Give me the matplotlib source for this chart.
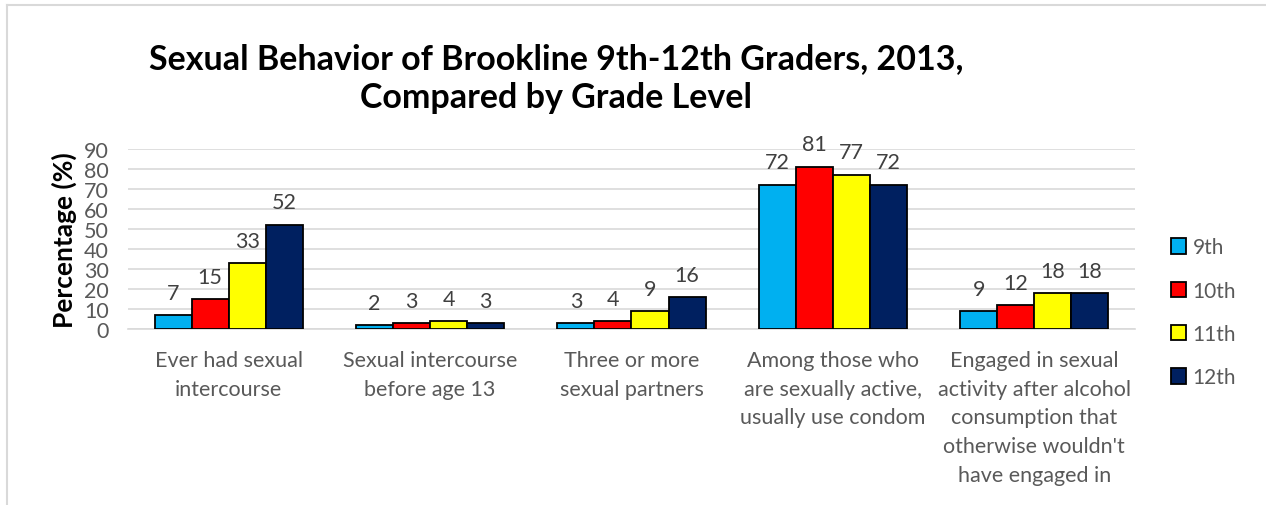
import numpy as np
import matplotlib
matplotlib.use("Agg")
from matplotlib import pyplot as plt
from matplotlib.lines import Line2D

categories = [
    "Ever had sexual\nintercourse",
    "Sexual intercourse\nbefore age 13",
    "Three or more\nsexual partners",
    "Among those who\nare sexually active,\nusually use condom",
    "Engaged in sexual\nactivity after alcohol\nconsumption that\notherwise wouldn't\nhave engaged in",
]
grades = ["9th", "10th", "11th", "12th"]
grade_9 = [7, 2, 3, 72, 9]
grade_10 = [15, 3, 4, 81, 12]
grade_11 = [33, 4, 9, 77, 18]
grade_12 = [52, 3, 16, 72, 18]
colors = ["#00B0F0", "#FF0000", "#FFFF00", "#002060"]

plt.rcParams["font.family"] = ["Lato", "DejaVu Sans"]

fig = plt.figure(figsize=(12.66, 5.06), dpi=100)
ax = fig.add_axes([0.1011, 0.3478, 0.7954, 0.3558])

x = np.arange(len(categories))
width = 0.184
series = [grade_9, grade_10, grade_11, grade_12]
for i, (vals, name, col) in enumerate(zip(series, grades, colors)):
    pos = x + (i - 1.5) * width
    bars = ax.bar(pos, vals, width, color=col, edgecolor="black",
                  linewidth=1.3, label=name, zorder=3)
    for b, v in zip(bars, vals):
        ax.annotate(str(v), (b.get_x() + b.get_width() / 2, v),
                    xytext=(0, 9), textcoords="offset points",
                    ha="center", va="bottom", fontsize=15.5, color="#404040")

ax.set_ylim(0, 90)
ax.set_xlim(-0.5, len(categories) - 0.5)
ax.set_yticks(range(0, 91, 10))
ax.yaxis.grid(True, color="#D9D9D9", linewidth=1.2, zorder=0)
ax.set_axisbelow(True)
for s in ["top", "right", "left"]:
    ax.spines[s].set_visible(False)
ax.spines["bottom"].set_color("#D9D9D9")
ax.spines["bottom"].set_linewidth(1.2)
ax.tick_params(axis="both", length=0, labelsize=15.5, labelcolor="#595959")
ax.tick_params(axis="y", pad=14)
ax.tick_params(axis="x", pad=15)
ax.set_xticks(x)
ax.set_xticklabels(categories, linespacing=1.55)
ax.set_ylabel("Percentage (%)", fontsize=19, fontweight="bold", labelpad=5)

fig.text(0.439, 0.845, "Sexual Behavior of Brookline 9th-12th Graders, 2013,\nCompared by Grade Level",
         ha="center", va="center", fontsize=24.5, fontweight="bold", linespacing=1.25)

fig.legend(loc="center left", bbox_to_anchor=(0.91, 0.381), frameon=False,
           fontsize=15, labelcolor="#595959", handlelength=0.75, handleheight=0.75,
           handletextpad=0.3, labelspacing=1.12)

# chart area frame
fig.add_artist(Line2D([7 / 1266, 1], [1 - 6 / 506, 1 - 6 / 506],
                      transform=fig.transFigure, color="#D9D9D9", linewidth=1.5))
fig.add_artist(Line2D([7 / 1266, 7 / 1266], [0, 1 - 6 / 506],
                      transform=fig.transFigure, color="#D9D9D9", linewidth=1.5))

fig.savefig("out.png", dpi=100)
